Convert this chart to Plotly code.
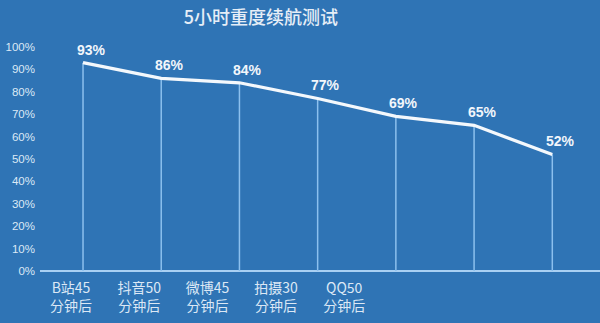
import plotly.graph_objects as go

title = "5小时重度续航测试"
categories = ["B站45<br>分钟后", "抖音50<br>分钟后", "微博45<br>分钟后", "拍摄30<br>分钟后", "QQ50<br>分钟后", "", ""]
values = [93, 86, 84, 77, 69, 65, 52]
y_ticks = [0, 10, 20, 30, 40, 50, 60, 70, 80, 90, 100]
y_tick_labels = [f"{v}%" for v in y_ticks]

BG = "#2f74b5"
idx = list(range(len(values)))

fig = go.Figure()
# drop lines from 0 to each point
fig.add_trace(go.Scatter(
    x=idx, y=values, mode="markers",
    marker=dict(size=1, color="rgba(0,0,0,0)"),
    error_y=dict(type="data", symmetric=False, array=[0]*len(values), arrayminus=values,
                 color="#8cc0ee", thickness=1.5, width=0),
    hoverinfo="skip", showlegend=False))
# main line
fig.add_trace(go.Scatter(
    x=idx, y=values, mode="lines",
    line=dict(color="#f4f8fc", width=3.2),
    showlegend=False))
# invisible trace for category label axis
fig.add_trace(go.Scatter(
    x=idx, y=[0]*len(idx), xaxis="x2", mode="markers",
    marker=dict(size=1, color="rgba(0,0,0,0)"), hoverinfo="skip", showlegend=False))

for i, v in zip(idx, values):
    fig.add_annotation(x=i, y=v, text=f"<b>{v}%</b>", showarrow=False,
                       xshift=8, yshift=13,
                       font=dict(family="Liberation Sans", size=14, color="#f2f6fb"))

fig.update_layout(
    width=600, height=323,
    paper_bgcolor=BG, plot_bgcolor=BG,
    margin=dict(l=40, r=0, t=40, b=52),
    title=dict(text=title, x=261/600, xanchor="center", y=1 - 18/323, yanchor="middle",
               font=dict(family="Noto Sans CJK SC", size=18, color="#e6eef7", weight=500)),
    xaxis=dict(range=[-0.55, 6.61], showgrid=False, zeroline=False, showticklabels=False,
               showline=False, fixedrange=True, automargin=False),
    xaxis2=dict(overlaying="x", side="bottom", anchor="y", range=[-0.454, 7.745],
                tickmode="array", tickvals=idx, ticktext=categories, automargin=False,
                showgrid=False, zeroline=False, showline=False, ticks="",
                ticklabelstandoff=7,
                tickfont=dict(family="Noto Sans CJK SC", size=14, color="#dce8f5")),
    yaxis=dict(range=[0, 103.1], tickmode="array", tickvals=y_ticks, ticktext=y_tick_labels,
               showgrid=False, zeroline=True, zerolinecolor="#a9d0f3", zerolinewidth=2,
               ticks="", ticklabelstandoff=4, automargin=False,
               tickfont=dict(family="Liberation Sans", size=11.5, color="#dce9f6")),
)

fig.write_html("out.html", config={"displayModeBar": False, "staticPlot": True},
               post_script="document.body.style.margin='0';document.body.style.background='%s';" % BG)
